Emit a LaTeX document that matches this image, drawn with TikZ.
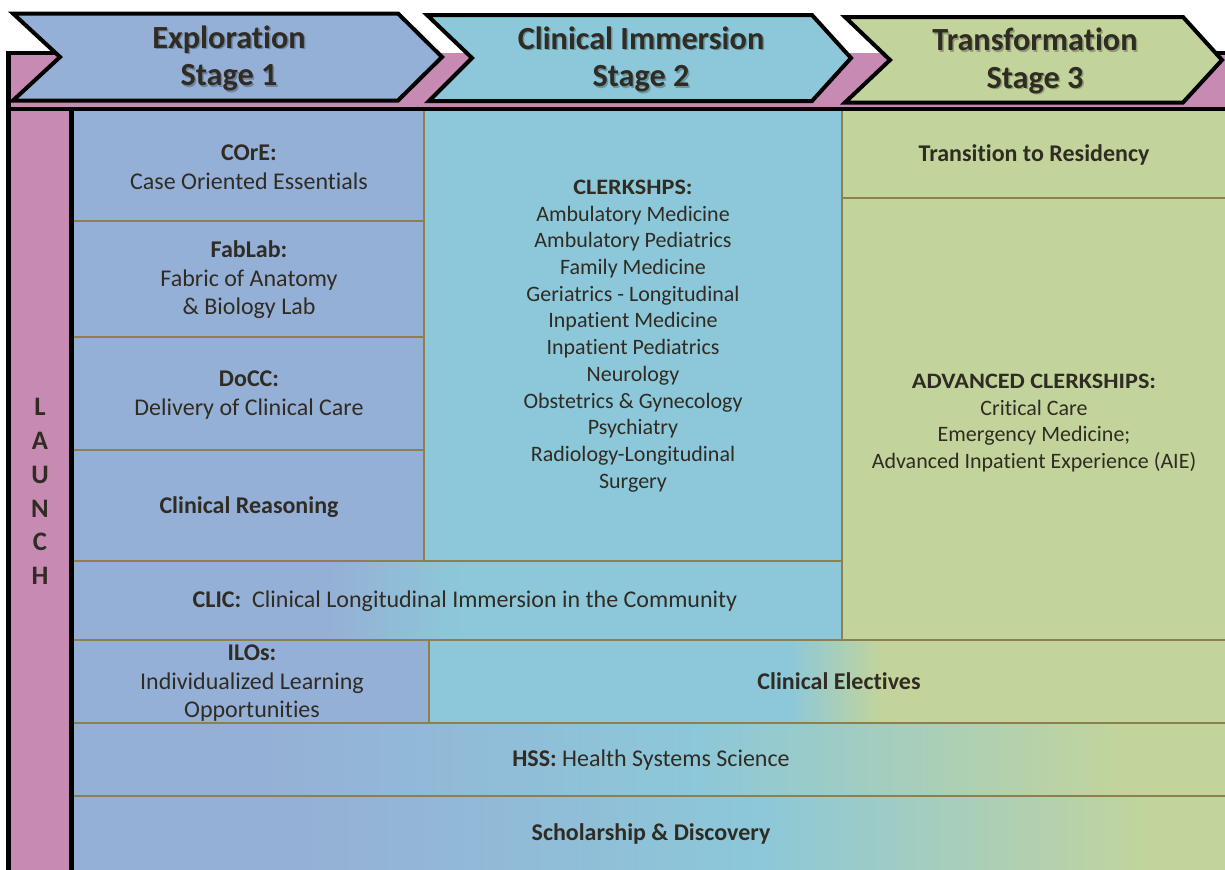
\documentclass[tikz,border=0pt]{standalone}
\usepackage{fontspec}
\usepackage{graphicx}
\setmainfont{Carlito}[Ligatures=NoCommon, RawFeature={-liga;-clig;-calt;-dlig}]
\definecolor{cblue}{HTML}{95B0D6}
\definecolor{ccyan}{HTML}{8CC8D9}
\definecolor{cgreen}{HTML}{C2D49C}
\definecolor{cpink}{HTML}{C78AB3}
\definecolor{colive}{HTML}{8E7F4E}
\definecolor{ctext}{HTML}{302B23}
\newcommand{\widecaps}[1]{\scalebox{1.1}[1]{\textbf{#1}}}
\tikzset{
  chevron/.style={draw=black, line width=3pt, line join=miter},
  gridline/.style={draw=colive, line width=2.1pt},
  blackline/.style={draw=black, line width=3.4pt},
  hdr/.style={font=\fontsize{24.2}{27.9}\selectfont\bfseries, text=ctext, align=center, inner sep=0pt},
  hdrshadow/.style={hdr, text=black, opacity=0.25},
  bodytext/.style={font=\fontsize{18}{21.4}\selectfont, text=ctext, align=center, inner sep=0pt},
  listtext/.style={font=\fontsize{16.5}{20.05}\selectfont, text=ctext, align=center, inner sep=0pt},
  launchtext/.style={font=\fontsize{20}{25.4}\selectfont\bfseries, text=ctext, align=center, inner sep=0pt},
}
\begin{document}
\begin{tikzpicture}[x=0.75pt,y=-0.75pt]
\useasboundingbox (0,0) rectangle (1225,869);
\clip (0,0) rectangle (1225,869);
% ---------- outer pink frame
\fill[cpink] (8.7,53) rectangle (1240,880);
\draw[blackline] (8.7,51) -- (8.7,880);
\draw[blackline] (7,53) -- (70,53);
\draw[blackline] (1200,53) -- (1240,53);
% ---------- stage chevrons
\draw[chevron, fill=cblue] (13,13.5) -- (398,13.5) -- (442,57) -- (398,100.5) -- (13,100.5) -- (60,57) -- cycle;
\draw[chevron, fill=ccyan] (427,15) -- (812,15) -- (851,58) -- (812,101) -- (429,101) -- (472,58) -- cycle;
\draw[chevron, fill=cgreen] (845,17) -- (1183,17) -- (1222,60) -- (1183,102.5) -- (845,102.5) -- (890,60) -- cycle;
% ---------- grid fills
\fill[cblue] (73,111) rectangle (424,561);
\fill[ccyan] (424,111) rectangle (842,561);
\fill[cgreen] (842,111) rectangle (1240,640);
% CLIC row
\fill[cblue] (73,561) rectangle (331,640);
\shade[left color=cblue, right color=ccyan] (330,561) rectangle (461,640);
\fill[ccyan] (460,561) rectangle (842,640);
% ILOs / electives row
\fill[cblue] (73,640) rectangle (429,723);
\fill[ccyan] (429,640) rectangle (791,723);
\shade[left color=ccyan, right color=cgreen] (790,640) rectangle (881,723);
\fill[cgreen] (880,640) rectangle (1240,723);
% HSS row
\fill[cblue] (73,723) rectangle (261,796);
\shade[left color=cblue, right color=ccyan] (260,723) rectangle (701,796);
\shade[left color=ccyan, right color=cgreen] (700,723) rectangle (1121,796);
\fill[cgreen] (1120,723) rectangle (1240,796);
% Scholarship row
\fill[cblue] (73,796) rectangle (301,880);
\shade[left color=cblue, right color=ccyan] (300,796) rectangle (761,880);
\shade[left color=ccyan, right color=cgreen] (760,796) rectangle (1151,880);
\fill[cgreen] (1150,796) rectangle (1240,880);
% ---------- olive grid lines
\draw[gridline] (424,111) -- (424,561);
\draw[gridline] (842,111) -- (842,640);
\draw[gridline] (429,640) -- (429,723);
\draw[gridline] (73,221) -- (424,221);
\draw[gridline] (73,337) -- (424,337);
\draw[gridline] (73,450) -- (424,450);
\draw[gridline] (73,561) -- (842,561);
\draw[gridline] (842,198) -- (1240,198);
\draw[gridline] (73,640) -- (1240,640);
\draw[gridline] (73,723) -- (1240,723);
\draw[gridline] (73,796) -- (1240,796);
% ---------- black frame lines
\draw[blackline] (7,109) -- (1240,109);
\draw[blackline] (71.5,107) -- (71.5,880);
% ---------- header texts
\node[hdrshadow] at (230.5,60) {Exploration\\Stage 1};
\node[hdr] (h1) at (229,58.5) {Exploration\\Stage 1};
\node[hdrshadow] at (642.5,61) {Clinical Immersion\\Stage 2};
\node[hdr] (h2) at (641,59.5) {Clinical Immersion\\Stage 2};
\node[hdrshadow] at (1036.5,62.5) {Transformation\\Stage 3};
\node[hdr] (h3) at (1035,61) {Transformation\\Stage 3};
% ---------- launch
\node[launchtext] (launch) at (40,491.5) {L\\A\\U\\N\\C\\H};
% ---------- box texts
\node[bodytext] (core) at (249,167) {\textbf{COrE:}\\Case Oriented Essentials};
\node[bodytext] (fablab) at (249,280) {\textbf{FabLab:}\\Fabric of Anatomy\\\& Biology Lab};
\node[bodytext] (docc) at (249,395) {\textbf{DoCC:}\\Delivery of Clinical Care};
\node[bodytext] (reason) at (249,507) {\textbf{Clinical Reasoning}};
\node[listtext] (clerk) at (633,336) {\widecaps{CLERKSHPS:}\\Ambulatory Medicine\\Ambulatory Pediatrics\\Family Medicine\\Geriatrics - Longitudinal\\Inpatient Medicine\\Inpatient Pediatrics\\Neurology\\Obstetrics \& Gynecology\\Psychiatry\\Radiology-Longitudinal\\Surgery};
\node[bodytext] (trans) at (1034,155) {\textbf{Transition to Residency}};
\node[listtext] (adv) at (1034,423) {\widecaps{ADVANCED CLERKSHIPS:}\\Critical Care\\Emergency Medicine;\\Advanced Inpatient Experience (AIE)};
\node[bodytext] (clic) at (465,601) {\textbf{CLIC:}\ \ Clinical Longitudinal Immersion in the Community};
\node[bodytext] (ilos) at (252,683.5) {\textbf{ILOs:}\\Individualized Learning\\Opportunities};
\node[bodytext] (elect) at (839,681) {\textbf{Clinical Electives}};
\node[bodytext] (hss) at (651,760) {\textbf{HSS:} Health Systems Science};
\node[bodytext] (schol) at (651,834) {\textbf{Scholarship \& Discovery}};
\end{tikzpicture}
\end{document}
